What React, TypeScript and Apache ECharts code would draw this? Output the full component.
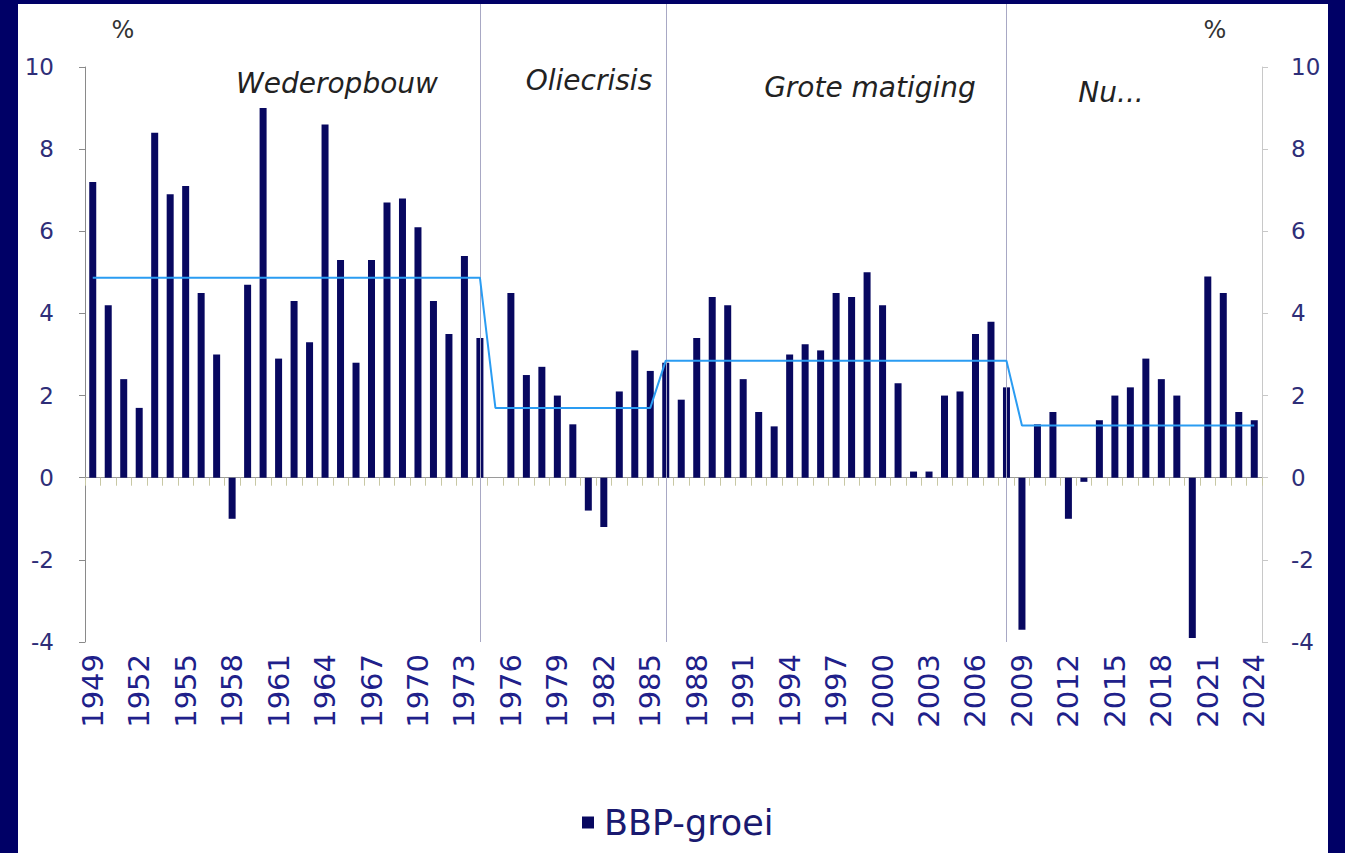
import React, { useEffect, useRef } from "react";
import * as echarts from "echarts";

const years: string[] = [
  "1949","1950","1951","1952","1953","1954","1955","1956","1957","1958","1959",
  "1960","1961","1962","1963","1964","1965","1966","1967","1968","1969",
  "1970","1971","1972","1973","1974","1975","1976","1977","1978","1979",
  "1980","1981","1982","1983","1984","1985","1986","1987","1988","1989",
  "1990","1991","1992","1993","1994","1995","1996","1997","1998","1999",
  "2000","2001","2002","2003","2004","2005","2006","2007","2008","2009",
  "2010","2011","2012","2013","2014","2015","2016","2017","2018","2019",
  "2020","2021","2022","2023","2024",
];

const gdpGrowth: number[] = [
  7.2, 4.2, 2.4, 1.7, 8.4, 6.9, 7.1, 4.5, 3.0, -1.0, 4.7,
  9.0, 2.9, 4.3, 3.3, 8.6, 5.3, 2.8, 5.3, 6.7, 6.8,
  6.1, 4.3, 3.5, 5.4, 3.4, 0.0, 4.5, 2.5, 2.7, 2.0,
  1.3, -0.8, -1.2, 2.1, 3.1, 2.6, 2.8, 1.9, 3.4, 4.4,
  4.2, 2.4, 1.6, 1.25, 3.0, 3.25, 3.1, 4.5, 4.4, 5.0,
  4.2, 2.3, 0.15, 0.15, 2.0, 2.1, 3.5, 3.8, 2.2, -3.7,
  1.3, 1.6, -1.0, -0.1, 1.4, 2.0, 2.2, 2.9, 2.4, 2.0,
  -3.9, 4.9, 4.5, 1.6, 1.4,
];

const periodStartYears: string[] = ["1949", "1975", "1986", "2009"];
const periodEndYears: string[] = ["1974", "1985", "2008", "2024"];
const periodAverages: number[] = [4.87, 1.7, 2.85, 1.27];
const periodNames: string[] = ["Wederopbouw", "Oliecrisis", "Grote matiging", "Nu..."];
const separatorYears: string[] = ["1974", "1986", "2008"];

const yTicks = { min: -4, max: 10, interval: 2 };

const FONT = "DejaVu Sans";

export default function App() {
  const ref = useRef<HTMLDivElement>(null);

  useEffect(() => {
    if (!ref.current) return;
    const chart = echarts.init(ref.current, undefined, { renderer: "svg" });

    const avgLine: (number | null)[] = years.map((y) => {
      for (let i = 0; i < periodStartYears.length; i++) {
        if (+y >= +periodStartYears[i] && +y <= +periodEndYears[i]) return periodAverages[i];
      }
      return null;
    });

    const titlePos = [
      { x: 319, y: 79 },
      { x: 571, y: 76 },
      { x: 852, y: 83 },
      { x: 1093, y: 88 },
    ];

    const option: any = {
      animation: false,
      backgroundColor: "#ffffff",
      textStyle: { fontFamily: FONT },
      grid: { left: 67, right: 66, top: 63, bottom: 211, containLabel: false },
      legend: {
        data: ["BBP-groei"],
        left: 559,
        top: 796,
        icon: "rect",
        itemWidth: 12,
        itemHeight: 12,
        itemGap: 10,
        textStyle: { color: "#1a1a70", fontSize: 35, fontFamily: FONT, padding: [0, 0, 0, 5] },
      },
      xAxis: [
        {
          type: "category",
          data: years,
          position: "bottom",
          axisLine: { onZero: true, lineStyle: { color: "#9a9a9a", width: 1 } },
          axisTick: { show: true, interval: 0, length: 8, lineStyle: { color: "#c8c8a4" } },
          axisLabel: { show: false },
          splitLine: { show: false },
        },
        {
          type: "category",
          data: years,
          position: "bottom",
          axisLine: { show: false, onZero: false },
          axisTick: { show: false },
          axisLabel: {
            show: true,
            interval: 2,
            rotate: 90,
            margin: 12,
            color: "#20208a",
            fontSize: 29,
            fontFamily: FONT,
          },
          splitLine: { show: false },
        },
      ],
      yAxis: [
        {
          type: "value",
          min: yTicks.min,
          max: yTicks.max,
          interval: yTicks.interval,
          position: "left",
          axisLine: { show: true, lineStyle: { color: "#8a8a8a" } },
          axisTick: { show: true, length: 6, lineStyle: { color: "#8a8a8a" } },
          axisLabel: { color: "#2e2e78", fontSize: 23, margin: 31, fontFamily: FONT },
          splitLine: { show: false },
        },
        {
          type: "value",
          min: yTicks.min,
          max: yTicks.max,
          interval: yTicks.interval,
          position: "right",
          axisLine: { show: true, lineStyle: { color: "#c8c8c8" } },
          axisTick: { show: true, length: 6, lineStyle: { color: "#c8c8c8" } },
          axisLabel: { color: "#2e2e78", fontSize: 23, margin: 29, fontFamily: FONT },
          splitLine: { show: false },
        },
      ],
      series: [
        {
          name: "BBP-groei",
          type: "bar",
          data: gdpGrowth,
          xAxisIndex: 0,
          yAxisIndex: 0,
          barWidth: 7,
          itemStyle: { color: "#080860" },
          markLine: {
            silent: true,
            symbol: "none",
            label: { show: false },
            lineStyle: { color: "#a8a8c4", width: 1, type: "solid" },
            data: separatorYears.map((yr) => [
              { xAxis: yr, yAxis: yTicks.max, y: 0 },
              { xAxis: yr, yAxis: yTicks.min },
            ]),
          },
        },
        {
          name: "Gemiddelde",
          type: "line",
          data: avgLine,
          xAxisIndex: 0,
          yAxisIndex: 0,
          symbol: "none",
          lineStyle: { color: "#2a9cf2", width: 2 },
          z: 5,
        },
      ],
      graphic: [
        ...periodNames.map((name, i) => ({
          type: "text",
          x: titlePos[i].x,
          y: titlePos[i].y,
          style: {
            text: name,
            fill: "#222222",
            font: `italic 28px "${FONT}"`,
            textAlign: "center",
            textVerticalAlign: "middle",
          },
        })),
        {
          type: "text",
          x: 105,
          y: 26,
          style: { text: "%", fill: "#333333", font: `24px "${FONT}"`, textAlign: "center", textVerticalAlign: "middle" },
        },
        {
          type: "text",
          x: 1197,
          y: 26,
          style: { text: "%", fill: "#333333", font: `24px "${FONT}"`, textAlign: "center", textVerticalAlign: "middle" },
        },
      ],
    };

    chart.setOption(option);
    return () => chart.dispose();
  }, []);

  return (
    <div
      style={{
        position: "fixed",
        left: 0,
        top: 0,
        width: 1345,
        height: 853,
        background: "#000066",
        overflow: "hidden",
      }}
    >
      <div
        ref={ref}
        style={{ position: "absolute", left: 18, top: 4, width: 1310, height: 849, background: "#ffffff" }}
      />
    </div>
  );
}
